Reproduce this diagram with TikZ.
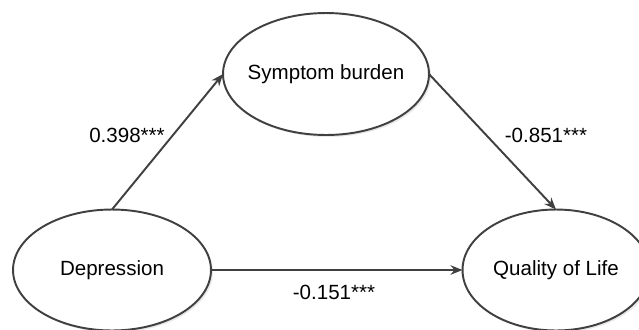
\documentclass[tikz,border=0pt]{standalone}
\usepackage{fontspec}
\setmainfont{Liberation Sans}
\usetikzlibrary{shapes.geometric,arrows.meta,shadows}
\definecolor{linegray}{HTML}{404040}

\begin{document}
\begin{tikzpicture}[x=0.02cm,y=-0.02cm,
    every node/.style={font=\fontsize{11.7}{14}\selectfont},
    var/.style={ellipse,draw=linegray,line width=1.1pt,fill=white,
      minimum height=2.42cm,inner sep=0pt,outer sep=0pt,
      drop shadow={shadow xshift=0.04cm,shadow yshift=-0.04cm,fill=black!18}},
    effect/.style={draw=linegray,line width=1.1pt,
      -{Stealth[length=0.24cm,width=0.19cm]}}]
  \useasboundingbox (0,0) rectangle (639,329);
  % latent variables
  \node[var,minimum width=4.12cm,minimum height=2.44cm] (Sym) at (326,74) {\makebox[0pt]{Symptom burden}};
  \node[var,minimum width=3.96cm] (Dep) at (112,270) {\makebox[0pt]{Depression}};
  \node[var,minimum width=3.74cm] (QoL) at (556,270) {\makebox[0pt]{Quality of Life}};
  % paths
  \draw[effect] (Dep.north) -- (Sym.west);
  \draw[effect] (Sym.east) -- (QoL.north);
  \draw[effect] (Dep.east) -- (QoL.west);
  % coefficients
  \node (a) at (127,135) {0.398***};
  \node (b) at (546,135) {-0.851***};
  \node (c) at (334,292) {-0.151***};
\end{tikzpicture}
\end{document}
